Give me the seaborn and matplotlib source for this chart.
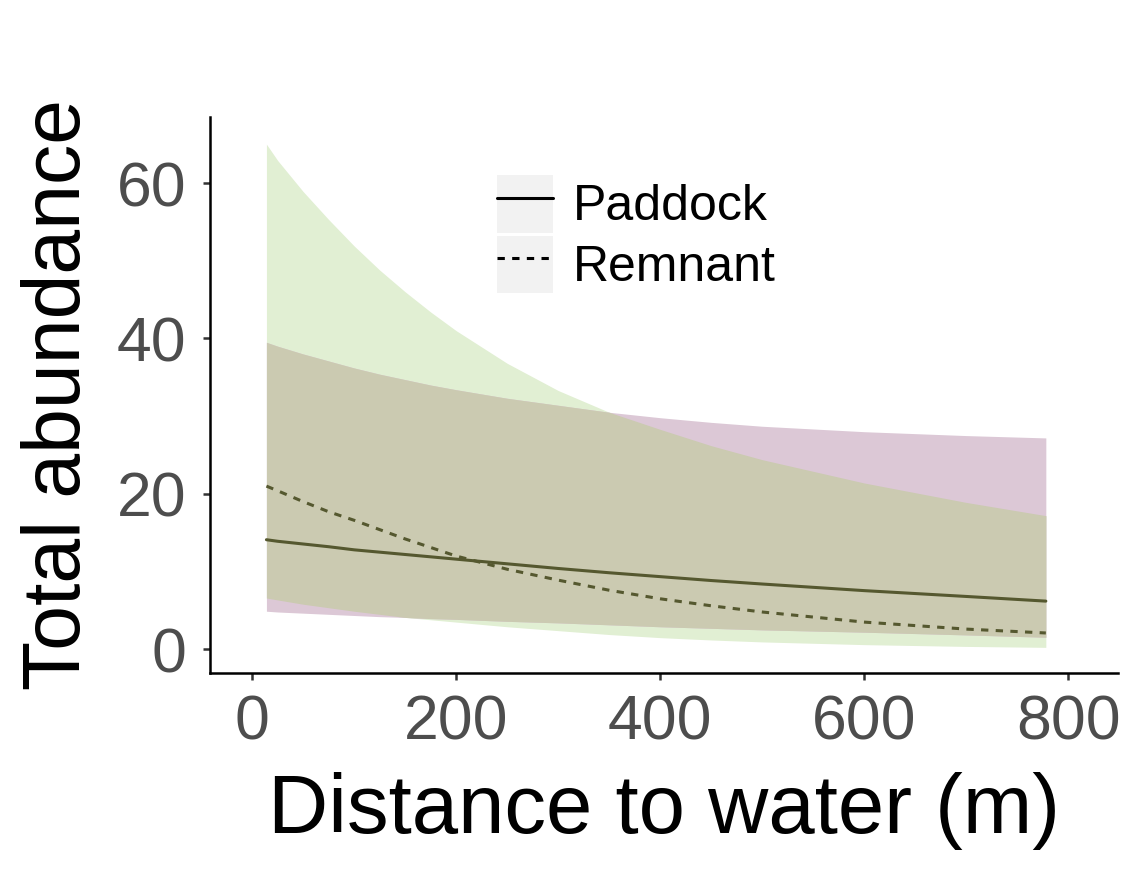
import numpy as np
import pandas as pd
import matplotlib
matplotlib.use("Agg")
import matplotlib.pyplot as plt
import seaborn as sns
from matplotlib.legend_handler import HandlerTuple
from matplotlib.patches import Rectangle
from matplotlib.lines import Line2D

# ---- data ----
distance = [14, 25, 50, 75, 100, 125, 150, 175, 200, 250, 300, 350, 400, 450, 500, 600, 700, 778]

paddock_mean = [14.1, 13.9, 13.55, 13.2, 12.8, 12.5, 12.2, 11.9, 11.6, 11.0, 10.4, 9.85,
                9.35, 8.85, 8.4, 7.55, 6.8, 6.2]
paddock_upper = [39.5, 39.0, 38.0, 37.1, 36.2, 35.4, 34.7, 34.0, 33.4, 32.3, 31.4, 30.5,
                 29.8, 29.2, 28.7, 28.0, 27.5, 27.2]
paddock_lower = [4.9, 4.8, 4.65, 4.5, 4.35, 4.2, 4.1, 3.95, 3.85, 3.6, 3.4, 3.15,
                 2.9, 2.7, 2.5, 2.2, 1.85, 1.55]

remnant_mean = [21.0, 20.4, 19.0, 17.7, 16.6, 15.4, 14.2, 13.1, 12.0, 10.3, 8.9, 7.6,
                6.5, 5.6, 4.8, 3.5, 2.6, 2.1]
remnant_upper = [65.0, 62.9, 58.9, 55.3, 51.9, 48.8, 46.0, 43.4, 41.0, 36.8, 33.3, 30.5,
                 28.3, 26.2, 24.4, 21.4, 18.9, 17.2]
remnant_lower = [6.6, 6.35, 5.8, 5.35, 4.9, 4.5, 4.1, 3.8, 3.5, 2.9, 2.4, 1.9,
                 1.5, 1.2, 0.95, 0.6, 0.37, 0.25]

sites = ["Paddock", "Remnant"]
x_ticks = [0, 200, 400, 600, 800]
y_ticks = [0, 20, 40, 60]

# ---- style ----
sns.set_style("ticks")
plt.rcParams["font.family"] = ["Liberation Sans", "DejaVu Sans"]

green_fill = "#E1EFD3"
pink_fill = "#DCC8D6"
overlap_fill = "#CBCAB1"
line_col = "#55582f"

fig = plt.figure(figsize=(11.22, 8.86), dpi=100)
ax = fig.add_axes([0.187, 0.2404, 0.8094, 0.6276])

x = np.array(distance, dtype=float)
p_lo, p_hi = np.array(paddock_lower), np.array(paddock_upper)
r_lo, r_hi = np.array(remnant_lower), np.array(remnant_upper)

ax.fill_between(x, r_lo, r_hi, color=green_fill, lw=0, zorder=1)
ax.fill_between(x, p_lo, p_hi, color=pink_fill, lw=0, zorder=1)
ov_lo = np.maximum(p_lo, r_lo)
ov_hi = np.minimum(p_hi, r_hi)
ax.fill_between(x, ov_lo, ov_hi, color=overlap_fill, lw=0, zorder=2)

df = pd.DataFrame({
    "distance": distance * 2,
    "abundance": paddock_mean + remnant_mean,
    "site": [sites[0]] * len(distance) + [sites[1]] * len(distance),
})
sns.lineplot(data=df, x="distance", y="abundance", style="site",
             dashes={"Paddock": "", "Remnant": (2.4, 2.4)},
             color=line_col, linewidth=2.2, ax=ax, legend=False, zorder=3)

ax.set_xlim(-41.5, 848.7)
ax.set_ylim(-3.05, 68.5)
ax.set_xticks(x_ticks)
ax.set_yticks(y_ticks)
sns.despine(ax=ax)
for s in ["left", "bottom"]:
    ax.spines[s].set_linewidth(1.8)
    ax.spines[s].set_color("black")
ax.tick_params(axis="both", length=5, width=1.8, color="#333333",
               labelcolor="#4D4D4D", labelsize=45)
ax.tick_params(axis="x", pad=10)
ax.tick_params(axis="y", pad=12)

ax.set_xlabel("Distance to water (m)", fontsize=60, color="black", labelpad=14)
ax.set_ylabel("Total abundance", fontsize=58, color="black", labelpad=14)

# ---- legend ----
key_bg = "#F2F2F2"
h1 = (Rectangle((0, 0), 1, 1, facecolor=key_bg, edgecolor="none"),
      Line2D([], [], color="black", lw=2.2))
h2 = (Rectangle((0, 0), 1, 1, facecolor=key_bg, edgecolor="none"),
      Line2D([], [], color="black", lw=2.2, linestyle=(0, (2.4, 2.4))))
ax.legend([h1, h2], sites, handler_map={tuple: HandlerTuple(ndivide=1, pad=0)},
          loc="upper left", bbox_to_anchor=(0.316, 0.896), frameon=False,
          fontsize=36, handlelength=1.12, handleheight=1.4, labelspacing=0.06,
          handletextpad=0.4, borderpad=0, borderaxespad=0, labelcolor="black")

fig.savefig("out.png", dpi=100)
